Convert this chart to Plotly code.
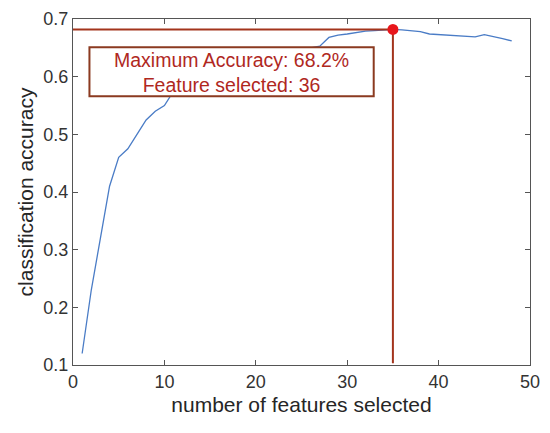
import plotly.graph_objects as go
import numpy as np

# number of selected features and the accuracy reached with them
n_features = list(range(1, 49))
accuracy = [0.120, 0.230, 0.320, 0.410, 0.460, 0.475, 0.500, 0.525, 0.540, 0.550,
            0.575, 0.590, 0.600, 0.610, 0.615, 0.620, 0.625, 0.630, 0.630, 0.635,
            0.640, 0.640, 0.645, 0.645, 0.650, 0.650, 0.653, 0.668, 0.672, 0.674,
            0.677, 0.679, 0.680, 0.681, 0.682, 0.681, 0.680, 0.678, 0.674, 0.673,
            0.673, 0.672, 0.671, 0.669, 0.673, 0.670, 0.666, 0.662]

label_lines = ["Maximum Accuracy: 68.2%", "Feature selected: 36"]
x_ticks = [0, 10, 20, 30, 40, 50]
y_ticks = [0.1, 0.2, 0.3, 0.4, 0.5, 0.6, 0.7]

best = int(np.argmax(accuracy))
best_x = n_features[best]
best_y = accuracy[best]

line_red = "#A3341C"
font = "Liberation Sans, Arial, sans-serif"

fig = go.Figure()

fig.add_trace(go.Scatter(
    x=n_features, y=accuracy, mode="lines",
    line=dict(color="#4A7CC6", width=1.3),
    showlegend=False, hoverinfo="skip"
))

# marker lines to the maximum
fig.add_trace(go.Scatter(
    x=[0, best_x], y=[best_y, best_y], mode="lines",
    line=dict(color=line_red, width=2), showlegend=False, hoverinfo="skip"
))
fig.add_trace(go.Scatter(
    x=[best_x, best_x], y=[best_y, 0.103], mode="lines",
    line=dict(color=line_red, width=2), showlegend=False, hoverinfo="skip"
))
fig.add_trace(go.Scatter(
    x=[best_x], y=[best_y], mode="markers",
    marker=dict(color="#E8161B", size=11), showlegend=False, hoverinfo="skip"
))

# white label box covering the curve
fig.add_shape(
    type="rect", x0=1.8, x1=32.9, y0=0.566, y1=0.651,
    xref="x", yref="y", layer="above",
    fillcolor="white", line=dict(color="#8B3A20", width=2)
)
fig.add_annotation(
    x=17.3, y=0.6065, xref="x", yref="y",
    text="<br>".join(label_lines), showarrow=False,
    font=dict(family=font, size=19.5, color="#B0281E"), align="center"
)

axis_common = dict(
    showgrid=False, zeroline=False, showline=True, linecolor="#555555",
    linewidth=1, mirror="allticks", ticks="inside", ticklen=5,
    tickcolor="#555555", tickfont=dict(family=font, size=18, color="#333333"),
    title_font=dict(family=font, size=21, color="#262626"), automargin=False
)

fig.update_xaxes(
    range=[0, 50], tickvals=x_ticks, title_text="number of features selected",
    title_standoff=6, **axis_common
)
fig.update_yaxes(
    range=[0.1, 0.7], tickvals=y_ticks, tickformat=".1f",
    title_text="classification accuracy", title_standoff=4, **axis_common
)

# page body adds an 8px margin, so the figure is a bit smaller than the window
fig.update_layout(
    width=542, height=425,
    margin=dict(l=65, r=20, t=11, b=68),
    plot_bgcolor="white", paper_bgcolor="white"
)

fig.write_html("out.html")
